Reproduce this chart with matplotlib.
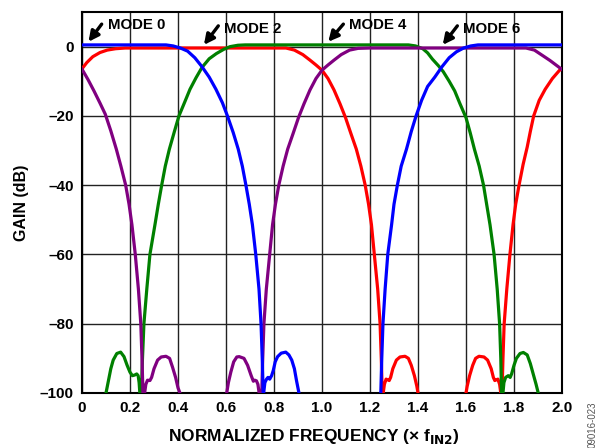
import numpy as np
import matplotlib
matplotlib.use("Agg")
import matplotlib.pyplot as plt

plt.rcParams['font.family'] = ['Liberation Sans', 'DejaVu Sans']
plt.rcParams['font.weight'] = 'bold'

# values (normalized frequency, gain in dB)
# -130 marks where a curve leaves the bottom of the plot
blue_f = [0.0, 0.2, 0.35, 0.38, 0.41, 0.44, 0.47, 0.50, 0.53, 0.558, 0.585, 0.606, 0.63, 0.651, 0.668,
          0.683, 0.697, 0.71, 0.724, 0.7375, 0.746, 0.751, 0.755, 0.756,
          0.757, 0.762, 0.769, 0.775, 0.782, 0.79, 0.797, 0.805, 0.815, 0.83, 0.849, 0.862, 0.874,
          0.885, 0.894, 0.904, 0.906,
          1.242, 1.245, 1.249, 1.254, 1.263, 1.274, 1.29, 1.30, 1.314, 1.33, 1.352, 1.372, 1.392,
          1.415, 1.44, 1.47, 1.50, 1.53, 1.56, 1.59, 1.62, 1.65, 2.0]
blue_db = [0.5, 0.5, 0.5, 0.2, -0.4, -1.3, -3.2, -5.8, -8.8, -12.3, -16.2, -20, -24.8, -29.6, -34.5,
           -40, -45.5, -51.4, -60, -70, -80, -90, -100, -130,
           -100, -97, -96, -95.5, -96, -95, -93.5, -91, -89.5, -88.5, -88.2, -89, -90.5,
           -93, -96.5, -100, -130,
           -130, -100, -90, -80, -70, -60, -51.4, -45.5, -40, -34.5, -29.6, -24.5, -20,
           -15.5, -11.5, -8.8, -5.8, -3.2, -1.5, -0.4, 0.2, 0.5, 0.5]

green_f = [0.098, 0.1, 0.11, 0.12, 0.13, 0.145, 0.161, 0.175, 0.188, 0.2, 0.21, 0.22, 0.228, 0.234,
           0.238, 0.241, 0.242,
           0.243, 0.247, 0.252, 0.258, 0.27, 0.283, 0.304, 0.318, 0.332, 0.347, 0.364, 0.385, 0.404,
           0.428, 0.45, 0.475, 0.50, 0.53, 0.56, 0.59, 0.617, 0.65, 0.68,
           1.36, 1.39, 1.42, 1.44, 1.46, 1.485, 1.505, 1.53, 1.553, 1.575, 1.6, 1.618, 1.635,
           1.655, 1.673, 1.686, 1.70, 1.717, 1.73, 1.74, 1.745, 1.748, 1.749,
           1.752, 1.754, 1.758, 1.765, 1.776, 1.784, 1.79, 1.80, 1.81, 1.825, 1.839, 1.855, 1.868,
           1.88, 1.892, 1.901, 1.903]
green_db = [-130, -100, -96.5, -93, -90.5, -88.6, -88.2, -89.5, -92, -94, -95, -94.8, -94.5, -95,
            -97, -100, -130,
            -130, -100, -90, -80, -70, -60, -51.4, -45.5, -40, -34.5, -29.6, -24.5, -20,
            -16, -12.3, -9, -6, -3.5, -2.0, -0.8, 0.0, 0.4, 0.5,
            0.5, 0.2, -0.6, -1.8, -3.6, -5.5, -7.2, -10, -12.8, -16.5, -20.5, -25, -29.6,
            -34.5, -40, -45.5, -51.4, -60, -70, -80, -90, -100, -130,
            -130, -100, -97, -95.5, -95, -95.5, -94.5, -92, -90, -88.6, -88.3, -89, -91.5,
            -94.5, -97.5, -100, -130]

red_f = [0.0, 0.02, 0.045, 0.075, 0.105, 0.14, 0.18, 0.85, 0.885, 0.92, 0.95, 0.975, 1.0, 1.025,
         1.05, 1.075, 1.098, 1.12, 1.143, 1.162, 1.18, 1.194, 1.206, 1.218, 1.232, 1.242, 1.247,
         1.251, 1.252,
         1.253, 1.255, 1.26, 1.267, 1.274, 1.28, 1.286, 1.295, 1.31, 1.325, 1.346, 1.36, 1.372,
         1.385, 1.395, 1.40, 1.402,
         1.598, 1.6, 1.605, 1.615, 1.628, 1.64, 1.654, 1.675, 1.69, 1.705, 1.714, 1.72, 1.726,
         1.733, 1.74, 1.745, 1.747,
         1.748, 1.75, 1.754, 1.759, 1.77, 1.783, 1.796, 1.807, 1.821, 1.838, 1.855, 1.868, 1.882,
         1.905, 1.93, 1.96, 1.99, 2.0]
red_db = [-6.4, -4.6, -2.9, -1.7, -1.0, -0.6, -0.4, -0.4, -1.0, -2.3, -3.9, -5.3, -6.8, -9.2,
          -12.5, -16.5, -20.5, -25, -29.6, -34.5, -40, -45.5, -51.4, -60, -70, -80, -90,
          -100, -130,
          -130, -100, -97.5, -96, -96.2, -96.4, -95.5, -93, -90.5, -89.6, -89.4, -90, -92,
          -95, -98, -100, -130,
          -130, -100, -98, -95, -92, -90, -89.4, -89.6, -90.5, -93, -95.5, -96.4, -96.2,
          -96, -97.5, -100, -130,
          -130, -100, -90, -80, -70, -60, -51.4, -45.5, -40, -34, -29, -24.5, -20,
          -15.5, -12.3, -9.2, -6.8, -6.4]

purple_f = [0.0, 0.025, 0.05, 0.075, 0.097, 0.12, 0.143, 0.162, 0.182, 0.196, 0.208, 0.222, 0.235,
            0.245, 0.25, 0.254, 0.255,
            0.258, 0.261, 0.266, 0.273, 0.283, 0.29, 0.30, 0.315, 0.33, 0.35, 0.365, 0.377, 0.39,
            0.40, 0.408, 0.41,
            0.601, 0.603, 0.61, 0.62, 0.632, 0.645, 0.655, 0.675, 0.69, 0.705, 0.714, 0.72, 0.727,
            0.733, 0.738, 0.739,
            0.748, 0.749, 0.753, 0.758, 0.768, 0.782, 0.794, 0.806, 0.82, 0.838, 0.857, 0.88, 0.902,
            0.925, 0.95, 0.975, 1.0, 1.025, 1.05, 1.08, 1.115, 1.15, 1.2,
            1.85, 1.885, 1.922, 1.95, 1.975, 2.0]
purple_db = [-6.5, -9.5, -12.8, -16.3, -19.5, -24.3, -29.6, -34.5, -40, -45.5, -51.4, -60, -70,
             -80, -90, -100, -130,
             -130, -100, -97.5, -96.3, -96.4, -95.5, -93, -90.5, -89.6, -89.4, -90, -92.5, -95.5,
             -98.5, -100, -130,
             -130, -100, -97, -94, -91, -89.6, -89.5, -90, -92, -95, -96.6, -96.3, -96.5,
             -97.5, -100, -130,
             -130, -100, -90, -80, -70, -60, -51.4, -45.5, -40, -34.5, -29.6, -25, -20.5,
             -16.5, -12.5, -9.2, -6.8, -5.3, -3.9, -2.3, -1.0, -0.5, -0.4,
             -0.4, -1.0, -2.7, -4, -5.3, -6.6]

modes = ['MODE 0', 'MODE 2', 'MODE 4', 'MODE 6']
x_ticks = [0, 0.2, 0.4, 0.6, 0.8, 1.0, 1.2, 1.4, 1.6, 1.8, 2.0]
x_labels = ['0', '0.2', '0.4', '0.6', '0.8', '1.0', '1.2', '1.4', '1.6', '1.8', '2.0']
y_ticks = [-100, -80, -60, -40, -20, 0]
y_labels = ['\u2013100', '\u201380', '\u201360', '\u201340', '\u201320', '0']

fig = plt.figure(figsize=(6, 4.48), dpi=100)
ax = fig.add_axes([82/600, 1-393/448, 480/600, 381/448])

lw = 2.3
ax.plot(red_f, red_db, color='#ff0000', lw=lw, zorder=3)
ax.plot(green_f, green_db, color='#008000', lw=lw, zorder=4)
ax.plot(purple_f, purple_db, color='#800080', lw=lw, zorder=5)
ax.plot(blue_f, blue_db, color='#0000ff', lw=lw, zorder=6)

ax.set_xlim(0, 2.0)
ax.set_ylim(-100, 10)
ax.set_xticks(x_ticks)
ax.set_xticklabels(x_labels)
ax.set_yticks(y_ticks)
ax.set_yticklabels(y_labels)
ax.tick_params(length=0, labelsize=11, pad=6)
ax.grid(True, color='#222222', lw=1.0)
ax.set_axisbelow(True)
for s in ax.spines.values():
    s.set_linewidth(1.5)

ax.set_xlabel('NORMALIZED FREQUENCY (\u00d7 f$_{\\mathbf{IN2}}$)', fontsize=12.5, fontweight='bold')
ax.xaxis.set_label_coords(0.484, -0.088)
ax.set_ylabel('GAIN (dB)', fontsize=11.5, fontweight='bold', labelpad=8)

# arrows + labels (tip, tail, text position)
arrows = [((0.027, 1.4), (0.082, 6.5), (0.109, 6.2)),
          ((0.508, 0.5), (0.568, 6.0), (0.593, 5.2)),
          ((1.026, 1.4), (1.089, 6.5), (1.114, 6.2)),
          ((1.503, 0.5), (1.564, 6.0), (1.586, 5.2))]
for name, (tip, tail, txt) in zip(modes, arrows):
    ax.annotate('', xy=tip, xytext=tail,
                arrowprops=dict(arrowstyle='-|>,head_length=0.6,head_width=0.3',
                                color='black', lw=2.4, shrinkA=0, shrinkB=0), zorder=8)
    ax.text(txt[0], txt[1], name, fontsize=10.8, fontweight='bold', va='center', ha='left', zorder=8)

fig.text(0.988, 1-401/448, '09016-023', rotation=90, va='top', ha='center',
         fontsize=7, color='#555555', fontweight='normal')

fig.savefig('out.png', dpi=100)
